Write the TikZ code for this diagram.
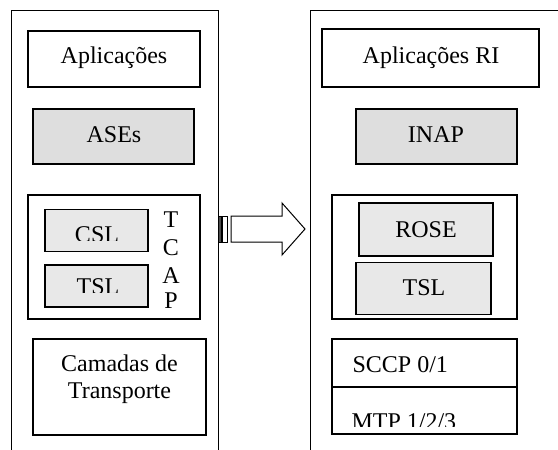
\documentclass[tikz,border=0pt]{standalone}
\usepackage{fontspec}
\setmainfont{Liberation Serif}
\begin{document}
\begin{tikzpicture}[x=1pt,y=-1pt,
  line width=1.1pt,
  every node/.style={font=\fontsize{24}{28}\selectfont, inner sep=0pt},
  layer/.style={draw, rectangle, minimum width=#1},
  plain/.style={fill=white},
  darkfill/.style={fill=black!13},
  lightfill/.style={fill=black!9},
  txt/.style={anchor=base},
  txtl/.style={anchor=base west}]
\useasboundingbox (0,0) rectangle (558,450);

% protocol stacks (open frames)
\draw[line width=1pt] (11,450) -- (11,10) -- (218,10) -- (218,450);
\draw[line width=1pt] (310,450) -- (310,10) -- (558,10);

% ---- left stack ----
\node[layer=172, minimum height=56, plain] (apl) at (114,59) {};
\node[txt] (aplT) at (114,63.5) {Aplicações};

\node[layer=161, minimum height=55, darkfill] (ases) at (113.5,136.5) {};
\node[txt] (asesT) at (114,142.5) {ASEs};

\node[layer=172, minimum height=124, plain] (tcapL) at (114,257) {};
\node[layer=103, minimum height=42, lightfill] (csl) at (96.5,230.5) {};
\node[layer=103, minimum height=42, lightfill] (tslL) at (96.5,286) {};
\begin{scope}
  \clip (45,205) rectangle (148,240.6);
  \node[txt] (cslT) at (97,242) {CSL};
\end{scope}
\begin{scope}
  \clip (45,265) rectangle (148,292.8);
  \node[txt] (tslLT) at (98,294.5) {TSL};
\end{scope}
\node[txt] (tT) at (171,227.5) {T};
\node[txt] (tC) at (171,255) {C};
\node[txt] (tA) at (171,283) {A};
\node[txt] (tP) at (171,308.5) {P};

\node[layer=173, minimum height=96, plain] (cam) at (119.5,387) {};
\node[txt] (camT1) at (119.5,371.5) {Camadas de};
\node[txt] (camT2) at (119.5,398) {Transporte};

% ---- right stack ----
\node[layer=217, minimum height=58, plain] (aplRI) at (430.5,58) {};
\node[txt] (aplRIT) at (431,63.5) {Aplicações RI};

\node[layer=161, minimum height=55, darkfill] (inap) at (436.5,136.5) {};
\node[txt] (inapT) at (436,142.5) {INAP};

\node[layer=185, minimum height=124, plain] (tcapR) at (424.5,257) {};
\node[layer=134, minimum height=53, lightfill] (rose) at (426,229.5) {};
\node[txt] (roseT) at (426,237) {ROSE};
\node[layer=135, minimum height=52, lightfill] (tslR) at (423.5,288.5) {};
\node[txt] (tslRT) at (424,295) {TSL};

\node[layer=185, minimum height=48, plain] (sccp) at (424.5,363) {};
\node[layer=185, minimum height=47, plain] (mtp) at (424.5,410.5) {};
\node[txtl] (sccpT) at (352,372.5) {SCCP 0/1};
\begin{scope}
  \clip (332,388) rectangle (517,426.6);
  \node[txtl] (mtpT) at (351,429.3) {MTP 1/2/3};
\end{scope}

% ---- striped block arrow between the stacks ----
\draw[fill=black!70, line width=1pt] (218,216) rectangle (221,242);
\draw[fill=white, line width=1pt] (222.5,216) rectangle (227.5,242);
\draw[fill=white, line width=1pt, line join=miter]
  (231,216) -- (282,216) -- (282,203) -- (305,229)
  -- (282,255) -- (282,242) -- (231,242) -- cycle;
\end{tikzpicture}
\end{document}
